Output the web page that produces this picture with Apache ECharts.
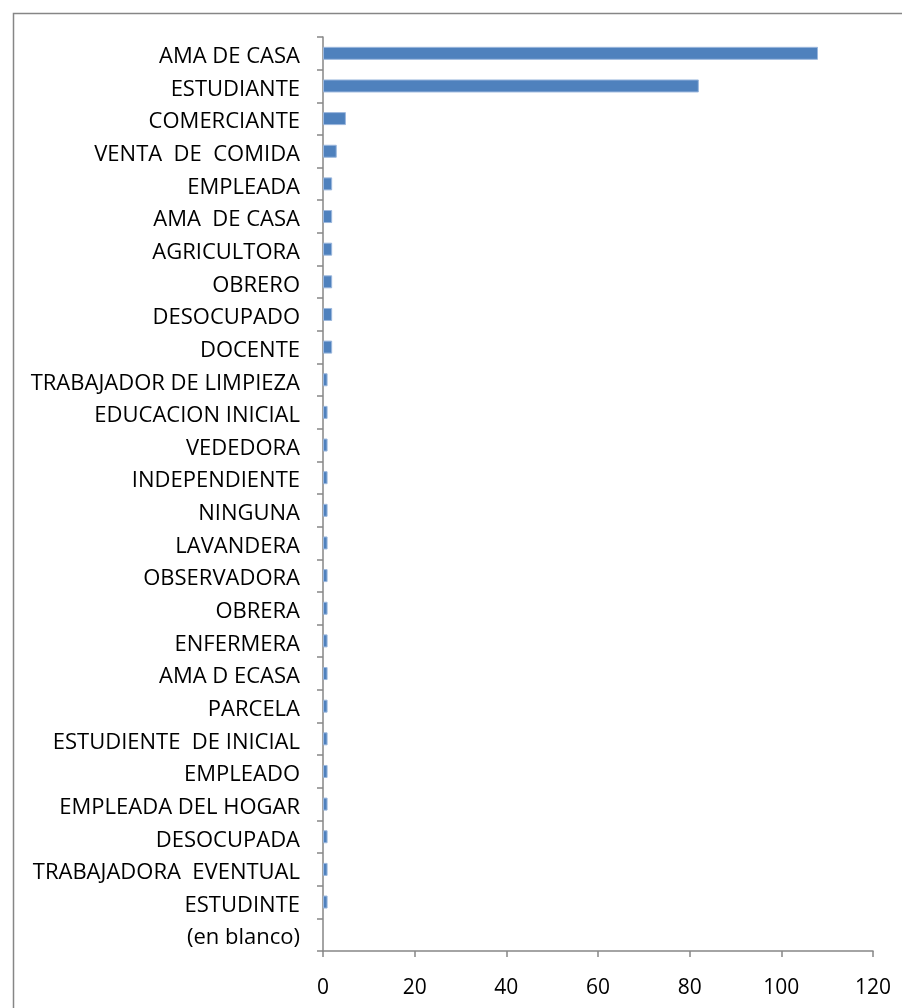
<!DOCTYPE html>
<html>
<head>
<meta charset="utf-8">
<script src="https://cdn.jsdelivr.net/npm/echarts@6/dist/echarts.min.js"></script>
<style>
html,body{margin:0;padding:0;background:#fff;}
#chart{width:902px;height:1008px;}
</style>
</head>
<body>
<div id="chart"></div>
<script>
const categories = [
  "AMA DE CASA", "ESTUDIANTE", "COMERCIANTE", "VENTA  DE  COMIDA", "EMPLEADA",
  "AMA  DE CASA", "AGRICULTORA", "OBRERO", "DESOCUPADO", "DOCENTE",
  "TRABAJADOR DE LIMPIEZA", "EDUCACION INICIAL", "VEDEDORA", "INDEPENDIENTE", "NINGUNA",
  "LAVANDERA", "OBSERVADORA", "OBRERA", "ENFERMERA", "AMA D ECASA",
  "PARCELA", "ESTUDIENTE  DE INICIAL", "EMPLEADO", "EMPLEADA DEL HOGAR", "DESOCUPADA",
  "TRABAJADORA  EVENTUAL", "ESTUDINTE", "(en blanco)"
];
const values = [
  108, 82, 5, 3, 2,
  2, 2, 2, 2, 2,
  1, 1, 1, 1, 1,
  1, 1, 1, 1, 1,
  1, 1, 1, 1, 1,
  1, 1, null
];
const xTicks = [0, 20, 40, 60, 80, 100, 120];

const chart = echarts.init(document.getElementById('chart'), null, {renderer: 'canvas'});
const axisGray = '#868686';
const fontFamily = '"Open Sans", "Noto Sans", sans-serif';
chart.setOption({
  animation: false,
  backgroundColor: '#ffffff',
  graphic: [{
    type: 'rect',
    left: 11, top: 11,
    shape: {width: 1000, height: 1100},
    style: {fill: 'none', stroke: axisGray, lineWidth: 1.5},
    silent: true, z: -1
  }],
  grid: {left: 323, right: 29, top: 37, bottom: 57, containLabel: false},
  xAxis: {
    type: 'value',
    min: xTicks[0], max: xTicks[xTicks.length - 1], interval: 20,
    axisLine: {show: true, lineStyle: {color: axisGray, width: 1.5}},
    axisTick: {show: true, length: 6, lineStyle: {color: axisGray, width: 1.5}},
    splitLine: {show: false},
    axisLabel: {color: '#000', fontSize: 21, fontFamily: fontFamily, margin: 27}
  },
  yAxis: {
    type: 'category',
    data: categories,
    inverse: true,
    axisLine: {show: true, lineStyle: {color: axisGray, width: 1.5}},
    axisTick: {show: true, length: 6, lineStyle: {color: axisGray, width: 1.5}},
    axisLabel: {color: '#000', fontSize: 22, fontFamily: fontFamily, margin: 23, interval: 0,
      verticalAlign: 'top', lineHeight: 7}
  },
  series: [{
    type: 'bar',
    data: values,
    barWidth: 13,
    itemStyle: {color: '#4F81BD', borderColor: '#9BB7DD', borderWidth: 1}
  }]
});
</script>
</body>
</html>
